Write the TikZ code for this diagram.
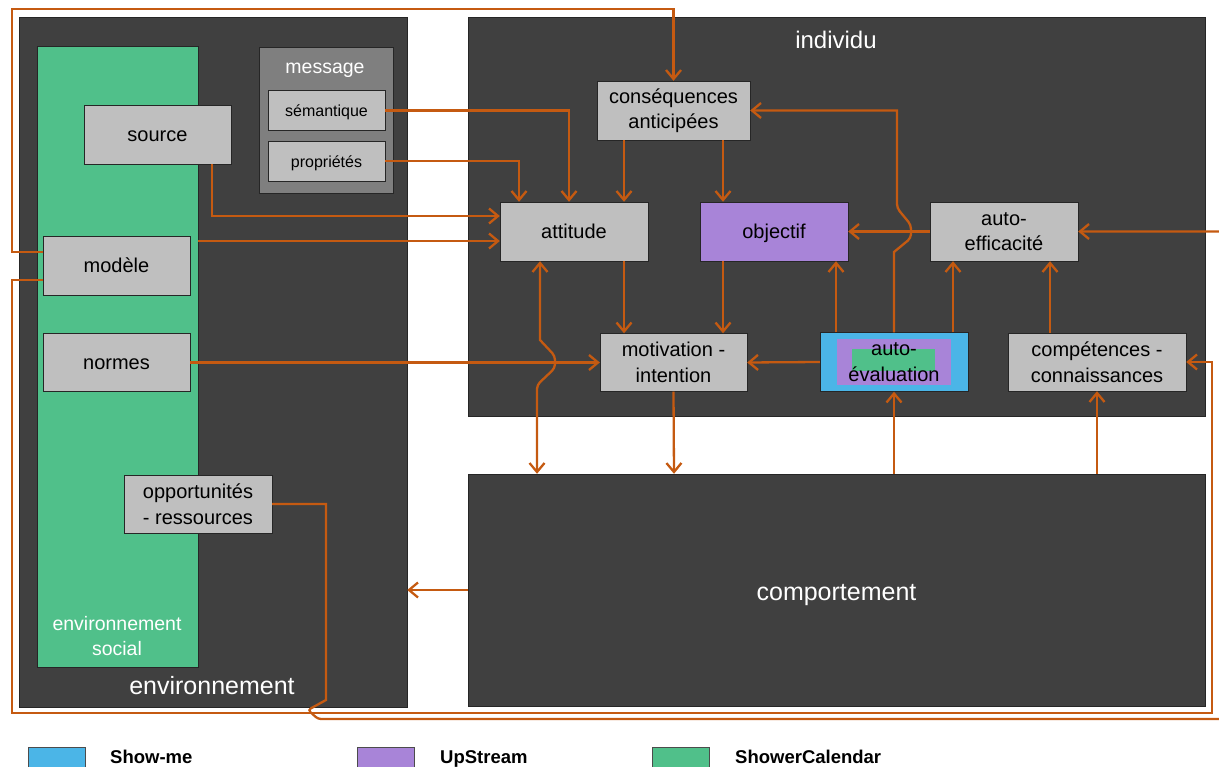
\documentclass[tikz,border=0pt]{standalone}
\usepackage{fontspec}
\setmainfont{Liberation Sans}
\usepackage{tikz}
\usetikzlibrary{arrows.meta}

\definecolor{fond}{HTML}{404040}
\definecolor{gris}{HTML}{BFBFBF}
\definecolor{msggris}{HTML}{7F7F7F}
\definecolor{calvert}{HTML}{50C08A}
\definecolor{upviolet}{HTML}{A884D8}
\definecolor{showbleu}{HTML}{4BB5E7}
\definecolor{fleche}{HTML}{C55A11}

\begin{document}
\begin{tikzpicture}[x=1pt,y=-1pt,>={Straight Barb[length=9pt,width=15pt]},
  zone/.style={draw=black!85,fill=fond,inner sep=0pt},
  box/.style={draw=black!85,fill=gris,text=black,align=center,inner sep=0pt,
    minimum width=147pt,minimum height=59pt,font=\fontsize{20}{25.5}\selectfont},
  un/.style={text height=16.5pt,text depth=2.5pt},
  petit/.style={box,minimum width=117pt,minimum height=40pt,font=\fontsize{16}{19}\selectfont,
    text height=14pt,text depth=1pt},
  titre/.style={text=white,align=center,font=\fontsize{25}{29}\selectfont},
  lien/.style={draw=fleche,line width=2.3pt},
  leg/.style={draw=black!70,minimum width=57pt,minimum height=20pt,inner sep=0pt},
  legtxt/.style={anchor=base west,inner sep=0pt,font=\bfseries\fontsize{18.5}{20}\selectfont}]
  \useasboundingbox (0,0) rectangle (1219,767);

  \node[zone,minimum width=388pt,minimum height=690pt] (env) at (213,362) {};
  \node[zone,fill=calvert,minimum width=161pt,minimum height=621pt] (social) at (117.5,356.5) {};
  \node[zone,fill=msggris,minimum width=134pt,minimum height=146pt] (msg) at (326,120) {};
  \node[zone,minimum width=737pt,minimum height=399pt] (indiv) at (836.5,216.5) {};
  \node[zone,titre,minimum width=737pt,minimum height=232pt,text height=22pt,text depth=1pt]
    (comport) at (836.5,590) {comportement};

  \node[titre] (envlbl) at (212,686) {environnement};
  \node[titre,font=\fontsize{19.5}{25}\selectfont] (soclbl) at (117,636) {environnement\\social};
  \node[titre,font=\fontsize{19.5}{23}\selectfont,text height=17pt,text depth=1pt] (msglbl) at (325,66) {message};
  \node[titre,font=\fontsize{24}{28}\selectfont] (indlbl) at (836,40) {individu};

  \node[petit] (sem)  at (326.5,110.5) {sémantique};
  \node[petit] (prop) at (326.5,161) {propriétés};
  \node[box,un] (source) at (157.5,134.5) {source};
  \node[box,un] (modele) at (116.5,265.5) {modèle};
  \node[box,un,minimum height=58pt] (normes) at (116.5,362.5) {normes};
  \node[box,minimum width=148pt,minimum height=58pt] (opport) at (198,504) {opportunités\\- ressources};
  \node[box,minimum width=153pt] (cons) at (673.5,110.5) {conséquences\\anticipées};
  \node[box,un,minimum width=148pt] (att) at (574,231.5) {attitude};
  \node[box,un,minimum width=148pt,fill=upviolet] (obj) at (774,231.5) {objectif};
  \node[box,minimum width=148pt] (autoeff) at (1004,231.5) {auto-\\efficacité};
  \node[box,minimum height=58pt] (motiv) at (673.5,362.5) {motivation -\\intention};
  \node[box,minimum width=148pt,fill=showbleu,path picture={
      \fill[upviolet] ([shift={(-57pt,-23pt)}]path picture bounding box.center)
        rectangle ([shift={(57pt,23pt)}]path picture bounding box.center);
      \fill[calvert] ([shift={(-42pt,-9pt)}]path picture bounding box.center)
        rectangle ([shift={(41pt,13pt)}]path picture bounding box.center);}]
    (autoeval) at (894,362) {auto-\\évaluation};
  \node[box,minimum width=178pt,minimum height=58pt] (comp) at (1097,362) {compétences -\\connaissances};

  \coordinate (attin) at ([yshift=-9.5pt]att.west);
  \coordinate (envin) at (comport.west -| env.east);

  \draw[lien,->] ([xshift=-49.5pt]cons.south) -- ([xshift=50pt]att.north);
  \draw[lien,->] ([xshift=49.5pt]cons.south) -- ([xshift=-51pt]obj.north);
  \draw[lien,->] ([xshift=50pt]att.south) -- ([xshift=-49.5pt]motiv.north);
  \draw[lien,->] ([xshift=-51pt]obj.south) -- ([xshift=49.5pt]motiv.north);
  \draw[lien,->] (normes.east) -- (motiv.west);
  \draw[lien,->] (motiv.south) -- ([xshift=-162.5pt]comport.north);
  \draw[lien,->] (autoeval.west) -- (motiv.east);
  \draw[lien,->] ([xshift=-58pt]autoeval.north) -- ([xshift=62pt]obj.south);
  \draw[lien,->] ([xshift=59pt]autoeval.north) -- ([xshift=-51pt]autoeff.south);
  \draw[lien,->] (autoeff.west) -- (obj.east);
  \draw[lien,->] ([xshift=-47pt]comp.north) -- ([xshift=46pt]autoeff.south);
  \draw[lien,->] ([xshift=57.5pt]comport.north) -- (autoeval.south);
  \draw[lien,->] ([xshift=260.5pt]comport.north) -- (comp.south);
  \draw[lien,->] (comport.west) -- (envin);
  \draw[lien,->] (social.east |- attin) -- (attin);
  \draw[lien,->] ([yshift=13.5pt]modele.west) -| (12,9) -| (cons.north);
  \draw[lien,->] ([yshift=-14.5pt]modele.west) -| (12,713) -| (1212,362) -- (comp.east);
  \draw[lien,->] (opport.east) -| (326,700) [rounded corners=3pt] -- (308,710) -- (318,719)
    [sharp corners] -- (1222,719) |- (autoeff.east);
  \draw[lien,->] ([xshift=-19pt]source.south east) |- ([yshift=15.5pt]att.west);
  \draw[lien,->] (sem.east) -| ([xshift=-5pt]att.north);
  \draw[lien,->] (prop.east) -| ([xshift=-55pt]att.north);
  \draw[lien,<->] ([xshift=-34pt]att.south) -- (540,340) [rounded corners=4pt] -- (555,356)
    -- (555,368) -- (537,385) [sharp corners] -- ([xshift=-299.5pt]comport.north);
  \draw[lien,->] (autoeval.north) -- (894,252) [rounded corners=4pt] -- (911,238)
    -- (911,225) -- (897,208) [sharp corners] |- (cons.east);

  \node[leg,fill=showbleu] (lg1) at (56.5,757) {};
  \node[legtxt] (lt1) at (110,763) {Show-me};
  \node[leg,fill=upviolet] (lg2) at (385.5,757) {};
  \node[legtxt] (lt2) at (440,763) {UpStream};
  \node[leg,fill=calvert] (lg3) at (681,757) {};
  \node[legtxt] (lt3) at (735,763) {ShowerCalendar};
\end{tikzpicture}
\end{document}
